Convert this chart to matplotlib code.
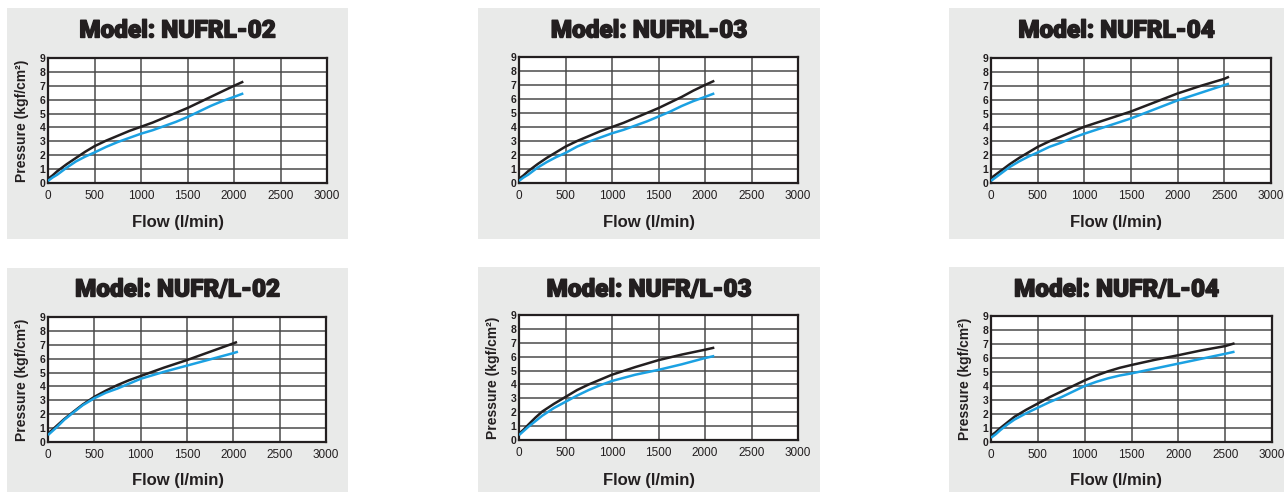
import matplotlib
matplotlib.use('Agg')
import matplotlib.pyplot as plt
from matplotlib.patches import Rectangle
from matplotlib import font_manager
import matplotlib.patheffects as pe

# Data (flow in l/min, pressure in kgf/cm2)
models = ['NUFRL-02', 'NUFRL-03', 'NUFRL-04', 'NUFR/L-02', 'NUFR/L-03', 'NUFR/L-04']

flow_02 = [0, 50, 100, 150, 200, 300, 400, 500, 625, 750, 875, 1000, 1125, 1250,
           1375, 1500, 1625, 1750, 1875, 2000, 2100]
black_02 = [0.3, 0.55, 0.85, 1.1, 1.35, 1.8, 2.25, 2.65, 3.05, 3.4, 3.75, 4.05, 4.35, 4.7,
            5.05, 5.4, 5.8, 6.2, 6.6, 7.0, 7.3]
blue_02 = [0.15, 0.4, 0.6, 0.85, 1.1, 1.55, 1.9, 2.2, 2.6, 2.95, 3.25, 3.55, 3.8, 4.1,
           4.4, 4.75, 5.15, 5.55, 5.9, 6.2, 6.45]

flow_03 = [0, 50, 100, 150, 200, 300, 400, 500, 625, 750, 875, 1000, 1125, 1250,
           1375, 1500, 1625, 1750, 1875, 2000, 2100]
black_03 = [0.3, 0.55, 0.85, 1.1, 1.35, 1.8, 2.2, 2.6, 3.0, 3.35, 3.7, 4.0, 4.3, 4.65,
            5.0, 5.35, 5.75, 6.15, 6.6, 7.0, 7.3]
blue_03 = [0.15, 0.4, 0.6, 0.85, 1.1, 1.5, 1.85, 2.15, 2.6, 2.95, 3.25, 3.55, 3.8, 4.1,
           4.4, 4.75, 5.1, 5.5, 5.85, 6.15, 6.4]

flow_04 = [0, 100, 200, 300, 400, 500, 625, 750, 875, 1000, 1250, 1500, 1750, 2000,
           2250, 2500, 2550]
black_04 = [0.35, 0.85, 1.35, 1.8, 2.2, 2.6, 3.0, 3.35, 3.7, 4.05, 4.6, 5.15, 5.8, 6.45,
            7.0, 7.5, 7.65]
blue_04 = [0.15, 0.65, 1.15, 1.55, 1.9, 2.2, 2.6, 2.9, 3.25, 3.55, 4.1, 4.65, 5.3, 5.95,
           6.5, 7.05, 7.15]

flow_l02 = [0, 50, 100, 175, 250, 375, 500, 625, 750, 875, 1000, 1250, 1500, 1750, 2000, 2040]
black_l02 = [0.6, 0.9, 1.2, 1.65, 2.05, 2.7, 3.25, 3.7, 4.1, 4.45, 4.75, 5.35, 5.9, 6.5, 7.1, 7.2]
flow_l02b = [0, 50, 100, 175, 250, 375, 500, 625, 750, 875, 1000, 1250, 1500, 1750, 2000, 2050]
blue_l02 = [0.5, 0.8, 1.1, 1.6, 2.0, 2.65, 3.15, 3.55, 3.85, 4.2, 4.55, 5.05, 5.5, 5.95, 6.4, 6.5]

flow_l03 = [0, 50, 100, 175, 250, 375, 500, 625, 750, 875, 1000, 1250, 1500, 1750, 2000, 2100]
black_l03 = [0.45, 0.75, 1.1, 1.6, 2.05, 2.6, 3.1, 3.6, 4.0, 4.35, 4.7, 5.25, 5.75, 6.15, 6.5, 6.65]
blue_l03 = [0.35, 0.65, 0.95, 1.35, 1.75, 2.3, 2.75, 3.2, 3.6, 3.95, 4.25, 4.7, 5.05, 5.45, 5.9, 6.05]

flow_l04 = [0, 50, 100, 175, 250, 375, 500, 625, 750, 875, 1000, 1125, 1250, 1375, 1500,
            1750, 2000, 2250, 2500, 2600]
black_l04 = [0.45, 0.7, 1.0, 1.4, 1.8, 2.3, 2.75, 3.2, 3.6, 4.0, 4.4, 4.75, 5.05, 5.3, 5.5,
             5.87, 6.2, 6.55, 6.85, 7.05]
blue_l04 = [0.3, 0.55, 0.85, 1.25, 1.6, 2.05, 2.45, 2.85, 3.2, 3.6, 4.0, 4.3, 4.55, 4.75, 4.9,
            5.25, 5.6, 5.95, 6.3, 6.45]

series = [
    (flow_02, black_02, flow_02, blue_02),
    (flow_03, black_03, flow_03, blue_03),
    (flow_04, black_04, flow_04, blue_04),
    (flow_l02, black_l02, flow_l02b, blue_l02),
    (flow_l03, black_l03, flow_l03, blue_l03),
    (flow_l04, black_l04, flow_l04, blue_l04),
]

x_ticks = [0, 500, 1000, 1500, 2000, 2500, 3000]
y_ticks = [0, 1, 2, 3, 4, 5, 6, 7, 8, 9]

# fonts
names = {f.name for f in font_manager.fontManager.ttflist}
narrow = 'Liberation Sans Narrow' if 'Liberation Sans Narrow' in names else 'Liberation Sans'
bold_font = 'Liberation Sans'
heavy_font = 'Roboto' if 'Roboto' in names else 'Liberation Sans'
ink = '#231f20'

W, H = 1286, 492
fig = plt.figure(figsize=(W / 100, H / 100), dpi=100)
fig.patch.set_facecolor('white')

# gray panel backgrounds (pixel boxes: left, top, right, bottom)
panels = [(7, 8, 348, 239), (478, 8, 820, 239), (949, 8, 1284, 239),
          (7, 268, 348, 492), (478, 267, 820, 492), (949, 267, 1284, 492)]
for l, t, r, b in panels:
    fig.patches.append(Rectangle((l / W, 1 - b / H), (r - l) / W, (b - t) / H,
                                 transform=fig.transFigure, facecolor='#e9eae9',
                                 edgecolor='none', zorder=-10))

# axes boxes in pixels: left, top, right, bottom
axes_px = [(48, 58, 327, 183), (519, 57, 798, 183), (991, 58, 1271, 183),
           (48, 317, 326, 442), (519, 315, 798, 440), (991, 316, 1272, 442)]
title_y = [31, 31, 31, 290, 290, 290]
xlabel_y = [223, 223, 223, 480, 480, 480]

for i, (model, (fx, yk, fb, yb)) in enumerate(zip(models, series)):
    l, t, r, b = axes_px[i]
    ax = fig.add_axes([l / W, 1 - b / H, (r - l) / W, (b - t) / H])
    ax.set_zorder(1)
    ax.set_facecolor('white')
    ax.plot(fx, yk, color=ink, lw=1.8, solid_capstyle='butt', zorder=3)
    ax.plot(fb, yb, color='#1ba1e2', lw=1.8, solid_capstyle='butt', zorder=3)
    ax.set_xlim(0, 3000)
    ax.set_ylim(0, 9)
    ax.set_xticks(x_ticks)
    ax.set_yticks(y_ticks)
    ax.set_xticklabels([str(v) for v in x_ticks], fontsize=8.5, family=narrow, color=ink)
    ax.set_yticklabels([str(v) for v in y_ticks], fontsize=7.5, family=bold_font,
                       fontweight='bold', color=ink)
    ax.tick_params(length=0, pad=2)
    ax.tick_params(axis='x', pad=5)
    ax.grid(True, color='#4a4a4a', lw=1.1)
    ax.set_axisbelow(True)
    for s in ax.spines.values():
        s.set_linewidth(1.6)
        s.set_color(ink)

    pl, pt, pr, pb = panels[i]
    cx = (pl + pr) / 2 / W
    fig.text(cx, 1 - title_y[i] / H, 'Model: ' + model, fontsize=17.5, fontweight='black',
             family=heavy_font, color=ink, ha='center', va='center',
             path_effects=[pe.withStroke(linewidth=1.0, foreground=ink)])
    fig.text(cx, 1 - xlabel_y[i] / H, 'Flow (l/min)', fontsize=12, fontweight='bold',
             family=bold_font, color=ink, ha='center', va='center')
    if i == 0 or i >= 3:
        ax.set_ylabel('Pressure (kgf/cm²)', fontsize=10, fontweight='bold',
                      family=bold_font, color=ink, va='center')
        ax.yaxis.set_label_coords(-0.094, 0.5)

fig.savefig('out.png', dpi=100, facecolor='white')
